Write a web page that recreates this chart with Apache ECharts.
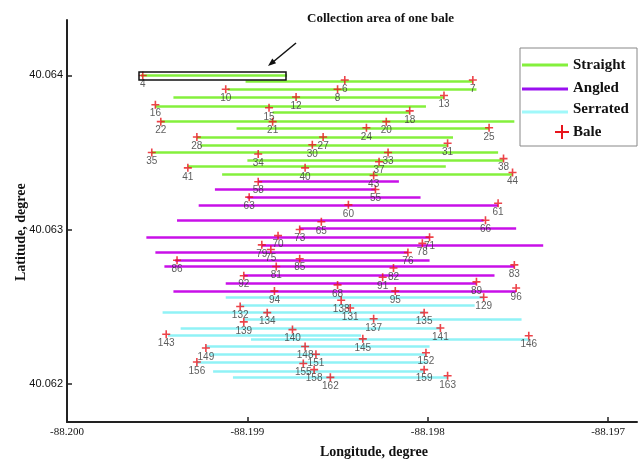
<!DOCTYPE html>
<html>
<head>
<meta charset="utf-8">
<script src="https://cdn.jsdelivr.net/npm/echarts@6/dist/echarts.min.js"></script>
<style>
  html, body { margin: 0; padding: 0; background: #fff; }
  #chart { width: 638px; height: 460px; }
</style>
</head>
<body>
<div id="chart"></div>
<script>
// tick values
var xTicks = [-88.200, -88.199, -88.198, -88.197];
var yTicks = [40.062, 40.063, 40.064];

// rows: [lonStart, latStart, lonEnd, latEnd]
var straightRows = [
  [-88.19959, 40.06400, -88.19878, 40.06400],
  [-88.19901, 40.06396, -88.19775, 40.06396],
  [-88.19911, 40.06391, -88.19773, 40.06391],
  [-88.19941, 40.06386, -88.19791, 40.06386],
  [-88.19951, 40.06380, -88.19801, 40.06380],
  [-88.19886, 40.06376, -88.19810, 40.06376],
  [-88.19948, 40.06370, -88.19752, 40.06370],
  [-88.19906, 40.06366, -88.19766, 40.06366],
  [-88.19928, 40.06360, -88.19786, 40.06360],
  [-88.19926, 40.06355, -88.19789, 40.06355],
  [-88.19953, 40.06350, -88.19761, 40.06350],
  [-88.19900, 40.06345, -88.19758, 40.06345],
  [-88.19933, 40.06341, -88.19790, 40.06341],
  [-88.19914, 40.06336, -88.19753, 40.06336]
];
var angledRows = [
  [-88.19894, 40.06331, -88.19816, 40.06331],
  [-88.19918, 40.06326, -88.19829, 40.06326],
  [-88.19900, 40.06321, -88.19804, 40.06321],
  [-88.19927, 40.06316, -88.19761, 40.06316],
  [-88.19939, 40.06306, -88.19769, 40.06306],
  [-88.19871, 40.06301, -88.19751, 40.06301],
  [-88.19956, 40.06295, -88.19799, 40.06295],
  [-88.19892, 40.06290, -88.19736, 40.06290],
  [-88.19951, 40.06285, -88.19811, 40.06285],
  [-88.19940, 40.06280, -88.19799, 40.06280],
  [-88.19946, 40.06276, -88.19752, 40.06276],
  [-88.19902, 40.06270, -88.19763, 40.06270],
  [-88.19912, 40.06265, -88.19773, 40.06265],
  [-88.19941, 40.06260, -88.19751, 40.06260]
];
var serratedRows = [
  [-88.19912, 40.06256, -88.19769, 40.06256],
  [-88.19904, 40.06251, -88.19774, 40.06251],
  [-88.19947, 40.06246, -88.19802, 40.06246],
  [-88.19902, 40.06242, -88.19748, 40.06242],
  [-88.19937, 40.06236, -88.19793, 40.06236],
  [-88.19944, 40.06231, -88.19837, 40.06231],
  [-88.19898, 40.06229, -88.19744, 40.06229],
  [-88.19923, 40.06224, -88.19799, 40.06224],
  [-88.19921, 40.06219, -88.19801, 40.06219],
  [-88.19928, 40.06214, -88.19800, 40.06214],
  [-88.19919, 40.06208, -88.19802, 40.06208],
  [-88.19908, 40.06204, -88.19789, 40.06204]
];

// bales
var baleIds = [4, 6, 7, 10, 8, 12, 13, 16, 15, 18, 22, 21, 20, 24, 25, 28, 27, 30, 31, 35,
  34, 33, 37, 38, 41, 40, 43, 44, 58, 55, 63, 60, 61, 65, 66, 73, 70, 71, 79, 78,
  75, 76, 86, 85, 81, 82, 83, 92, 91, 68, 89, 96, 94, 95, 129, 138, 132, 131, 134, 135,
  137, 139, 140, 141, 143, 146, 145, 148, 149, 151, 152, 156, 155, 158, 159, 162, 163];
var baleLon = [-88.19958, -88.19846, -88.19775, -88.19912, -88.19850, -88.19873, -88.19791, -88.19951, -88.19888, -88.19810,
  -88.19948, -88.19886, -88.19823, -88.19834, -88.19766, -88.19928, -88.19858, -88.19864, -88.19789, -88.19953,
  -88.19894, -88.19822, -88.19827, -88.19758, -88.19933, -88.19868, -88.19830, -88.19753, -88.19894, -88.19829,
  -88.19899, -88.19844, -88.19761, -88.19859, -88.19768, -88.19871, -88.19883, -88.19799, -88.19892, -88.19803,
  -88.19887, -88.19811, -88.19939, -88.19871, -88.19884, -88.19819, -88.19752, -88.19902, -88.19825, -88.19850,
  -88.19773, -88.19751, -88.19885, -88.19818, -88.19769, -88.19848, -88.19904, -88.19843, -88.19889, -88.19802,
  -88.19830, -88.19902, -88.19875, -88.19793, -88.19945, -88.19744, -88.19836, -88.19868, -88.19923, -88.19862,
  -88.19801, -88.19928, -88.19869, -88.19863, -88.19802, -88.19854, -88.19789];
var baleLat = [40.06400, 40.06397, 40.06397, 40.06391, 40.06391, 40.06386, 40.06387, 40.06381, 40.06379, 40.06377,
  40.06370, 40.06370, 40.06370, 40.06366, 40.06366, 40.06360, 40.06360, 40.06355, 40.06356, 40.06350,
  40.06349, 40.06350, 40.06344, 40.06346, 40.06340, 40.06340, 40.06335, 40.06337, 40.06331, 40.06326,
  40.06321, 40.06316, 40.06317, 40.06305, 40.06306, 40.06300, 40.06296, 40.06295, 40.06290, 40.06291,
  40.06287, 40.06285, 40.06280, 40.06281, 40.06276, 40.06275, 40.06277, 40.06270, 40.06269, 40.06264,
  40.06266, 40.06262, 40.06260, 40.06260, 40.06256, 40.06254, 40.06250, 40.06249, 40.06246, 40.06246,
  40.06242, 40.06240, 40.06235, 40.06236, 40.06232, 40.06231, 40.06229, 40.06224, 40.06223, 40.06219,
  40.06220, 40.06214, 40.06213, 40.06209, 40.06209, 40.06204, 40.06205];

var GREEN = '#84f03c', PURPLE = '#c810e8', CYAN = '#90f2f6', RED = '#e8141c';
var serif = '"Liberation Serif", "DejaVu Serif", serif';
var sans = '"Liberation Sans", Arial, sans-serif';

function rowSeries(name, rows, color) {
  return {
    name: name,
    type: 'lines',
    coordinateSystem: 'cartesian2d',
    polyline: false,
    silent: true,
    lineStyle: { color: color, width: 2.5, opacity: 1 },
    data: rows.map(function (r) { return { coords: [[r[0], r[1]], [r[2], r[3]]] }; })
  };
}

var baleData = baleIds.map(function (id, i) { return [baleLon[i], baleLat[i], id]; });

var chart = echarts.init(document.getElementById('chart'));
chart.setOption({
  animation: false,
  grid: { left: 67, right: 1, top: 20, bottom: 38 },
  xAxis: {
    type: 'value',
    min: -88.2000, max: -88.19684,
    axisLine: { show: true, lineStyle: { color: '#222', width: 2 } },
    axisTick: { show: true, inside: true, length: 5, customValues: xTicks, lineStyle: { color: '#222', width: 1.5 } },
    axisLabel: { customValues: xTicks, margin: 5, color: '#111', fontFamily: serif, fontSize: 11,
      formatter: function (v) { return v.toFixed(3); } },
    splitLine: { show: false }
  },
  yAxis: {
    type: 'value',
    min: 40.06175, max: 40.06436,
    axisLine: { show: true, lineStyle: { color: '#222', width: 2 } },
    axisTick: { show: true, inside: true, length: 5, customValues: yTicks, lineStyle: { color: '#222', width: 1.5 } },
    axisLabel: { customValues: yTicks, margin: 4, color: '#111', fontFamily: sans, fontSize: 11,
      formatter: function (v) { return v.toFixed(3); } },
    splitLine: { show: false }
  },
  series: [
    rowSeries('Straight', straightRows, GREEN),
    rowSeries('Angled', angledRows, PURPLE),
    rowSeries('Serrated', serratedRows, CYAN),
    {
      name: 'Bale',
      type: 'scatter',
      data: baleData,
      symbol: 'path://M4,0h2v4h4v2h-4v4h-2v-4h-4v-2h4z',
      symbolSize: 8,
      itemStyle: { color: RED },
      z: 5,
      label: {
        show: true, position: 'bottom', distance: 0,
        formatter: function (p) { return p.value[2]; },
        fontFamily: sans, fontSize: 10, color: '#333'
      }
    }
  ],
  graphic: [
    // axis titles
    { type: 'text', left: 320, top: 445, style: { text: 'Longitude, degree', font: 'bold 14px ' + serif, fill: '#111' } },
    { type: 'text', x: 14, y: 281, rotation: Math.PI / 2, style: { text: 'Latitude, degree', font: 'bold 14px ' + serif, fill: '#111' } },
    // annotation
    { type: 'text', left: 307, top: 12, style: { text: 'Collection area of one bale', font: 'bold 13px ' + serif, fill: '#111' } },
    { type: 'line', shape: { x1: 296, y1: 43, x2: 273, y2: 62 }, style: { stroke: '#111', lineWidth: 1.5 } },
    { type: 'polygon', shape: { points: [[268, 66], [276.1, 63.2], [272.3, 58.6]] }, style: { fill: '#111' } },
    { type: 'rect', shape: { x: 139, y: 72, width: 147, height: 8 }, style: { fill: 'none', stroke: '#111', lineWidth: 1.5 }, z: 10 },
    // legend
    { type: 'rect', shape: { x: 520, y: 48, width: 117, height: 98 }, style: { fill: '#fff', stroke: '#888', lineWidth: 1 }, z: 20 },
    { type: 'line', shape: { x1: 522, y1: 65, x2: 568, y2: 65 }, style: { stroke: GREEN, lineWidth: 3 }, z: 21 },
    { type: 'text', x: 573, y: 65, style: { text: 'Straight', font: 'bold 15px ' + serif, fill: '#111', verticalAlign: 'middle' }, z: 21 },
    { type: 'line', shape: { x1: 522, y1: 89, x2: 568, y2: 89 }, style: { stroke: '#9a10f0', lineWidth: 3 }, z: 21 },
    { type: 'text', x: 573, y: 88, style: { text: 'Angled', font: 'bold 15px ' + serif, fill: '#111', verticalAlign: 'middle' }, z: 21 },
    { type: 'line', shape: { x1: 522, y1: 112, x2: 568, y2: 112 }, style: { stroke: '#a0f8fa', lineWidth: 3 }, z: 21 },
    { type: 'text', x: 573, y: 109, style: { text: 'Serrated', font: 'bold 15px ' + serif, fill: '#111', verticalAlign: 'middle' }, z: 21 },
    { type: 'line', shape: { x1: 555, y1: 132, x2: 569, y2: 132 }, style: { stroke: RED, lineWidth: 2 }, z: 21 },
    { type: 'line', shape: { x1: 562, y1: 125, x2: 562, y2: 139 }, style: { stroke: RED, lineWidth: 2 }, z: 21 },
    { type: 'text', x: 573, y: 132, style: { text: 'Bale', font: 'bold 15px ' + serif, fill: '#111', verticalAlign: 'middle' }, z: 21 }
  ]
});
</script>
</body>
</html>
